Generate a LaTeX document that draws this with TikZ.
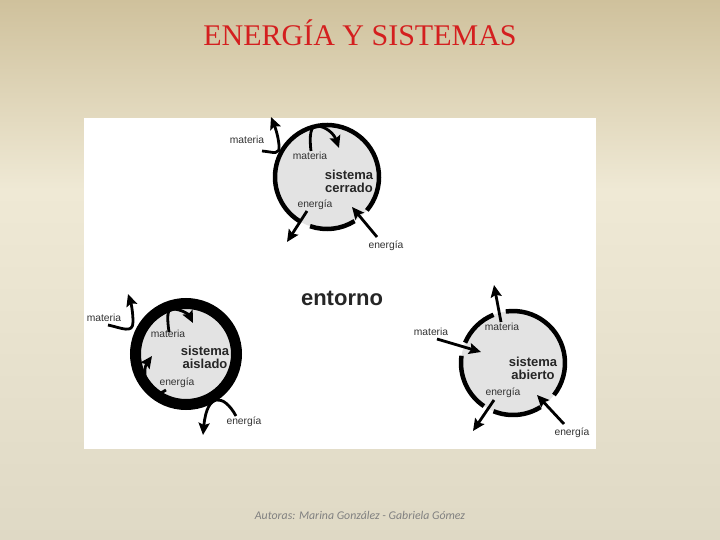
\documentclass[tikz,border=0pt]{standalone}
\usepackage{fontspec}
\setmainfont{Liberation Sans}
\newfontfamily\titlefont{Liberation Serif}
\newfontfamily\footfont{Carlito}
\usetikzlibrary{arrows.meta}
\definecolor{bgtop}{HTML}{CFC19C}
\definecolor{bgmid}{HTML}{EFE9D5}
\definecolor{bgbot}{HTML}{DFD9C5}
\definecolor{fillgray}{HTML}{E3E3E3}
\definecolor{titlered}{HTML}{D41F1F}
\tikzset{
  ring/.style={line width=4.5pt, draw=black},
  flow/.style={line width=2.8pt, -{Stealth[length=12pt,width=11pt,inset=2pt]}},
  lbl/.style={font=\fontsize{10.3}{11}\selectfont, text=black!80, inner sep=0pt},
  sysname/.style={font=\fontsize{13}{13}\selectfont\bfseries, text=black!85, align=center, inner sep=0pt},
}
\begin{document}
\begin{tikzpicture}[x=1pt,y=-1pt]
\useasboundingbox (0,0) rectangle (720,540);
% background
\shade[top color=bgtop, bottom color=bgmid] (0,0) rectangle (720,190);
\shade[top color=bgmid, bottom color=bgbot] (0,190) rectangle (720,540);
\node[font=\titlefont\fontsize{30}{31}\selectfont, text=titlered] (title) at (360,33) {ENERGÍA Y SISTEMAS};
\node[font=\footfont\itshape\fontsize{11.8}{13}\selectfont, text=black!50] (foot) at (360,515) {Autoras: Marina González - Gabriela Gómez};
% panel
\fill[white] (84,118) rectangle (596,449);
\node[font=\fontsize{22}{23}\selectfont\bfseries, text=black!85] (entorno) at (342,298) {entorno};

% ---------------- closed system
\coordinate (cc) at (327,177);
\fill[fillgray] (cc) circle[radius=52pt];
\draw[ring] (cc) ++(251:52pt) arc[start angle=251, end angle=302, radius=52pt];
\draw[ring] (cc) ++(320:52pt) arc[start angle=320, end angle=598, radius=52pt];
\node[lbl] (cmo) at (247,140) {materia};
\node[lbl] (cmi) at (310,156) {materia};
\node[sysname] (csys) at (349,181) {sistema\\cerrado};
\node[lbl] (cei) at (315,205) {energía};
\node[lbl] (ceo) at (386,246) {energía};
\coordinate (cm1) at (262,151); \coordinate (cm2) at (271,117);
\coordinate (cm3) at (311,151); \coordinate (cm4) at (339,148);
\coordinate (ce1) at (307,211); \coordinate (ce2) at (287,242);
\coordinate (ce3) at (377,237); \coordinate (ce4) at (352,207);
\draw[flow] (cm1) .. controls (274,152) and (280,156) .. (279,145) .. controls (278,135) and (275,127) .. (cm2);
\draw[flow] (cm3) .. controls (309,135) and (311,126) .. (316,126) .. controls (326,126) and (334,134) .. (cm4);
\draw[flow] (ce1) -- (ce2);
\draw[flow] (ce3) -- (ce4);

% ---------------- isolated system
\coordinate (ic) at (186,354);
\fill[fillgray] (ic) circle[radius=50.5pt];
\draw[line width=11pt] (ic) circle[radius=50.5pt];
\node[lbl] (imo) at (104,318) {materia};
\node[lbl] (imi) at (168,334) {materia};
\node[sysname] (isys) at (205,357) {sistema\\aislado};
\node[lbl] (iei) at (177,383) {energía};
\node[lbl] (ieo) at (244,422) {energía};
\coordinate (im1) at (108,325); \coordinate (im2) at (128,294);
\coordinate (im3) at (169,332); \coordinate (im4) at (193,323);
\coordinate (ie1) at (166,390); \coordinate (ie2) at (152,356);
\coordinate (ie3) at (236,416); \coordinate (ie4) at (203,435);
\draw[flow] (im1) .. controls (122,328) and (133,334) .. (133,322) .. controls (133,312) and (131,303) .. (im2);
\draw[flow] (im3) .. controls (167,318) and (167,309) .. (172,309) .. controls (182,309) and (189,315) .. (im4);
\draw[flow] (ie1) .. controls (146,404) and (142,370) .. (ie2);
\draw[flow] (ie3) .. controls (224,394) and (207,392) .. (ie4);

% ---------------- open system
\coordinate (oc) at (513,363);
\fill[fillgray] (oc) circle[radius=52pt];
\draw[ring] (oc) ++(112:52pt) arc[start angle=112, end angle=157, radius=52pt];
\draw[ring] (oc) ++(172:52pt) arc[start angle=172, end angle=236, radius=52pt];
\draw[ring] (oc) ++(248:52pt) arc[start angle=248, end angle=302, radius=52pt];
\draw[ring] (oc) ++(322:52pt) arc[start angle=322, end angle=458, radius=52pt];
\node[lbl] (omt) at (502,327) {materia};
\node[lbl] (oml) at (431,332) {materia};
\node[sysname] (osys) at (533,368) {sistema\\abierto};
\node[lbl] (oei) at (503,393) {energía};
\node[lbl] (oeo) at (572,433) {energía};
\coordinate (om1) at (501,322); \coordinate (om2) at (494,285);
\coordinate (om3) at (437,339); \coordinate (om4) at (481,352);
\coordinate (oe1) at (494,400); \coordinate (oe2) at (473,431);
\coordinate (oe3) at (564,424); \coordinate (oe4) at (537,395);
\draw[flow] (om1) -- (om2);
\draw[flow] (om3) -- (om4);
\draw[flow] (oe1) -- (oe2);
\draw[flow] (oe3) -- (oe4);
\end{tikzpicture}
\end{document}
